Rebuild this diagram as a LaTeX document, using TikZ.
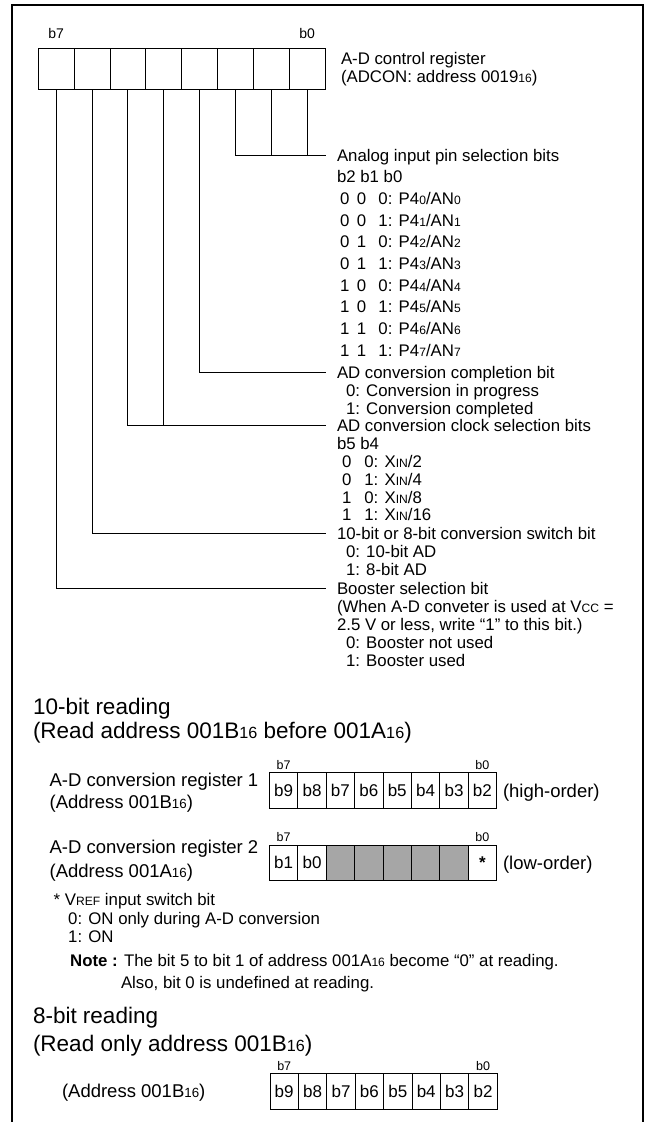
\documentclass[tikz,border=0pt]{standalone}
\usepackage{fontspec}
\setmainfont{Liberation Sans}
\usepackage{graphicx}
\usetikzlibrary{positioning}
\definecolor{regshade}{RGB}{166,166,166}
\newcommand{\sm}[1]{\scalebox{0.72}{#1}}
\newcommand{\txtsize}{\fontsize{16.8}{18}\selectfont}
\newcommand{\regsize}{\fontsize{18.5}{20}\selectfont}
\newcommand{\headsize}{\fontsize{22.5}{24}\selectfont}
\newcommand{\bitsize}{\fontsize{17}{18}\selectfont}
\newcommand{\topsize}{\fontsize{14}{15}\selectfont}
\newcommand{\tinysize}{\fontsize{12.5}{13}\selectfont}

\begin{document}
\begin{tikzpicture}[x=1pt, y=-1pt, line width=0.9pt,
    txt/.style={anchor=west, inner sep=0pt, outer sep=0pt, text height=12pt, text depth=0pt, font=\txtsize},
    head/.style={txt, inner xsep=11pt},
    rlbl/.style={txt, text height=13.2pt, font=\regsize},
    hlbl/.style={txt, text height=16.1pt, font=\headsize},
    cell/.style={draw, minimum width=35.84pt, minimum height=41pt, inner sep=0pt, outer sep=0pt, anchor=north west},
    bcell/.style={draw, minimum width=28.4pt, minimum height=35.7pt, inner sep=0pt, outer sep=0pt, anchor=north west, font=\bitsize},
    bitno/.style={inner sep=0pt, font=\tinysize}]
    \useasboundingbox (0,0) rectangle (647,1122);

    % Frame (open at the bottom)
    \draw[line width=2pt] (11.5,1122) -- (11.5,5) -- (643,5) -- (643,1122);

    % A-D control register
    \foreach \i in {0,...,7} {
        \pgfmathtruncatemacro{\b}{7-\i}
        \node[cell] (c\b) at ({38.3+35.84*\i},48.3) {};
    }
    \node[inner sep=0pt, font=\topsize, above=9pt] (tb7) at (c7.north) {b7};
    \node[inner sep=0pt, font=\topsize, above=9pt] (tb0) at (c0.north) {b0};
    \node[txt] (adcon) at (341,58) {A-D control register};
    \node[txt] (adconaddr) at (341,76.7) {(ADCON: address 0019\sm{16})};

    % Analog input pin selection bits
    \node[head] (ana) at (326,155) {Analog input pin selection bits};
    \node[txt] (anahd) at (337,176.7) {b2 b1 b0};
    \foreach \bb/\ba/\bz [count=\r from 0] in {0/0/0,0/0/1,0/1/0,0/1/1,1/0/0,1/0/1,1/1/0,1/1/1}
        \node[txt] (ana\r) at (340,{198.4+21.7*\r}) {\makebox[17pt][l]{\bb}\makebox[21.5pt][l]{\ba}\bz: P4\sm{\r}/AN\sm{\r}};

    % AD conversion completion bit
    \node[head] (adc) at (326,372.7) {AD conversion completion bit};
    \node[txt] (adc0) at (346,390.6) {0: Conversion in progress};
    \node[txt] (adc1) at (346,408.5) {1: Conversion completed};

    % AD conversion clock selection bits
    \node[head] (clk) at (326,425) {AD conversion clock selection bits};
    \node[txt] (clkhd) at (337,443.3) {b5 b4};
    \foreach \ba/\bz/\dv [count=\r from 0] in {0/0/2,0/1/4,1/0/8,1/1/16}
        \node[txt] (clk\r) at (342,{461.2+17.9*\r}) {\makebox[22.4pt][l]{\ba}\bz: X\sm{IN}/\dv};

    % 10-bit or 8-bit conversion switch bit
    \node[head] (sw) at (326,533.3) {10-bit or 8-bit conversion switch bit};
    \node[txt] (sw0) at (346,551.4) {0: 10-bit AD};
    \node[txt] (sw1) at (346,569.3) {1: 8-bit AD};

    % Booster selection bit
    \node[head] (bst) at (326,588.7) {Booster selection bit};
    \node[txt] (bstn1) at (337,606.3) {(When A-D conveter is used at V\sm{CC} =};
    \node[txt] (bstn2) at (337,624.2) {2.5 V or less, write “1” to this bit.)};
    \node[txt] (bst0) at (346,642) {0: Booster not used};
    \node[txt] (bst1) at (346,660) {1: Booster used};

    % Connectors from the bits
    \draw (c2.south) |- (ana.west);
    \draw (c1.south) -- (c1.south |- ana.west);
    \draw (c0.south) -- (c0.south |- ana.west);
    \draw (c3.south) |- (adc.west);
    \draw (c5.south) |- (clk.west);
    \draw (c4.south) -- (c4.south |- clk.west);
    \draw (c6.south) |- (sw.west);
    \draw (c7.south) |- (bst.west);

    % 10-bit reading
    \node[hlbl] (rd10) at (33,706.7) {10-bit reading};
    \node[hlbl] (rd10b) at (33,730) {(Read address 001B\sm{16} before 001A\sm{16})};

    \foreach \lab [count=\k from 0] in {b9,b8,b7,b6,b5,b4,b3,b2}
        \node[bcell] (ra\k) at ({269.4+28.4*\k},772.7) {\lab};
    \node[bitno, above=2.5pt] (ra7lbl) at (ra0.north) {b7};
    \node[bitno, above=2.5pt] (ra0lbl) at (ra7.north) {b0};
    \node[rlbl] (regone) at (49.6,780) {A-D conversion register 1};
    \node[rlbl] (regoneaddr) at (49.6,801.5) {(Address 001B\sm{16})};
    \node[rlbl, right=6.4pt of ra7] (high) {(high-order)};

    \foreach \lab/\shade [count=\k from 0] in {b1/white,b0/white,/regshade,/regshade,/regshade,/regshade,/regshade}
        \node[bcell, fill=\shade] (rb\k) at ({269.4+28.4*\k},845) {\lab};
    \node[bcell, font=\bitsize\bfseries] (rb7) at ({269.4+28.4*7},845) {\raisebox{-0.32em}{*}};
    \node[bitno, above=2.5pt] (rb7lbl) at (rb0.north) {b7};
    \node[bitno, above=2.5pt] (rb0lbl) at (rb7.north) {b0};
    \node[rlbl] (regtwo) at (49.6,847) {A-D conversion register 2};
    \node[rlbl] (regtwoaddr) at (49.6,871) {(Address 001A\sm{16})};
    \node[rlbl, right=6.4pt of rb7] (low) {(low-order)};

    % Notes
    \node[txt] (vref) at (53.7,899.3) {* V\sm{REF} input switch bit};
    \node[txt] (vref0) at (68.2,918.3) {0: ON only during A-D conversion};
    \node[txt] (vref1) at (68.2,936.7) {1: ON};
    \node[txt] (note) at (70.2,960) {\textbf{Note :} The bit 5 to bit 1 of address 001A\sm{16} become “0” at reading.};
    \node[txt] (note2) at (121,982) {Also, bit 0 is undefined at reading.};

    % 8-bit reading
    \node[hlbl] (rd8) at (33,1015) {8-bit reading};
    \node[hlbl] (rd8b) at (33,1043.3) {(Read only address 001B\sm{16})};

    \foreach \lab [count=\k from 0] in {b9,b8,b7,b6,b5,b4,b3,b2}
        \node[bcell] (rc\k) at ({270+28.4*\k},1073.3) {\lab};
    \node[bitno, above=2.5pt] (rc7lbl) at (rc0.north) {b7};
    \node[bitno, above=2.5pt] (rc0lbl) at (rc7.north) {b0};
    \node[rlbl] (regthree) at (62,1091.2) {(Address 001B\sm{16})};
\end{tikzpicture}
\end{document}
